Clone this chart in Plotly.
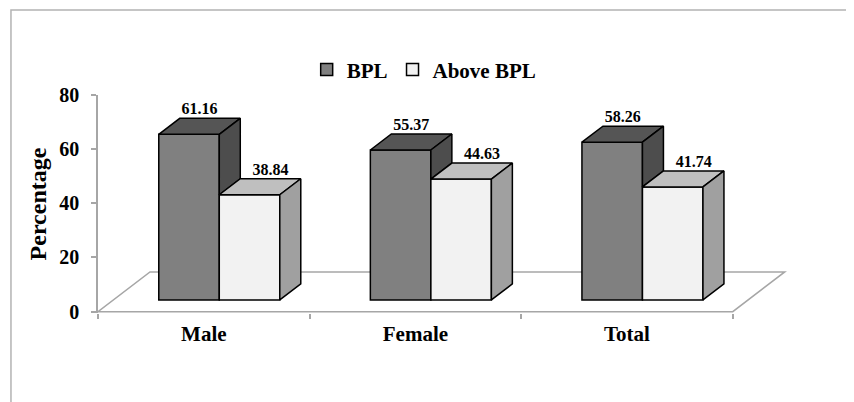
import plotly.graph_objects as go

# ---- data ----
categories = ["Male", "Female", "Total"]
series_names = ["BPL", "Above BPL"]
bpl = [61.16, 55.37, 58.26]
above_bpl = [38.84, 44.63, 41.74]
y_ticks = [0, 20, 40, 60, 80]

series_values = [bpl, above_bpl]

# ---- styling / geometry (in axis units) ----
FONT = "Liberation Serif, Times New Roman, serif"
W = 0.286          # bar width (category units)
SX, SY = 0.0732, 4.32   # shift of bar front from the floor front edge
DX, DY = 0.0992, 5.91   # bar depth
FDX, FDY = 0.2457, 14.66  # floor depth
front_colors = ["#808080", "#f2f2f2"]
top_colors = ["#555555", "#bfbfbf"]
side_colors = ["#4d4d4d", "#a0a0a0"]
label_dx = [0.05, DX]
EDGE = "#000000"
GRAY = "#a6a6a6"

fig = go.Figure()

n = len(categories)
xs = list(range(n))

# front faces as bars
for s, vals in enumerate(series_values):
    fig.add_trace(go.Bar(
        x=xs, y=vals, base=SY, width=W, offset=SX - W + s * W,
        name=series_names[s],
        marker=dict(color=front_colors[s], line=dict(color=EDGE, width=1.5)),
        hoverinfo="skip",
    ))

# top and side faces
for i in xs:
    for s, vals in enumerate(series_values):
        v = vals[i]
        x0 = i + SX - W + s * W
        x1 = x0 + W
        b = SY
        t = SY + v
        fig.add_trace(go.Scatter(
            x=[x0, x1, x1 + DX, x0 + DX, x0],
            y=[t, t, t + DY, t + DY, t],
            mode="lines", fill="toself", fillcolor=top_colors[s],
            line=dict(color=EDGE, width=1.5), showlegend=False, hoverinfo="skip",
        ))
        lo = b
        if s + 1 < len(series_values):
            lo = b + min(series_values[s + 1][i], v)
        fig.add_trace(go.Scatter(
            x=[x1, x1 + DX, x1 + DX, x1, x1],
            y=[t, t + DY, lo + DY, lo, t],
            mode="lines", fill="toself", fillcolor=side_colors[s],
            line=dict(color=EDGE, width=1.5), showlegend=False, hoverinfo="skip",
        ))

# data labels
for s, vals in enumerate(series_values):
    fig.add_trace(go.Scatter(
        x=[i + SX - W + s * W + W / 2 + label_dx[s] for i in xs],
        y=[SY + v + DY for v in vals],
        mode="text", text=[f"{v:.2f}" for v in vals],
        textposition="top center",
        textfont=dict(family=FONT, size=16, color="#000000", weight="bold"),
        cliponaxis=False, showlegend=False, hoverinfo="skip",
    ))

# floor
xl, xr = -0.5, n - 0.5
floor_path = (f"M {xl},0 L {xr},0 L {xr + FDX},{FDY} "
              f"L {xl + FDX},{FDY} Z")

shapes = [
    dict(type="path", path=floor_path, xref="x", yref="y", layer="below",
         line=dict(color=GRAY, width=1.5), fillcolor="rgba(0,0,0,0)"),
    dict(type="rect", xref="paper", yref="paper",
         x0=-0.1254, y0=-0.6, x1=1.2, y1=1.39,
         line=dict(color="#b3b3b3", width=1.5), fillcolor="rgba(0,0,0,0)",
         layer="below"),
]

# page body has an 8px default margin; figure is sized/placed to compensate
fig.update_layout(
    width=846, height=394,
    margin=dict(l=90, r=62, t=87, b=89),
    paper_bgcolor="white", plot_bgcolor="white",
    barmode="overlay",
    shapes=shapes,
    showlegend=True,
    legend=dict(orientation="h", x=0.47, xanchor="center", y=1.115,
                yanchor="middle", font=dict(family=FONT, size=21, color="#000000", weight="bold"),
                bgcolor="rgba(0,0,0,0)"),
    font=dict(family=FONT, color="#000000"),
    xaxis=dict(range=[-0.5, 2.78], tickmode="array", tickvals=xs, ticktext=categories,
               showline=False, zeroline=False, showgrid=False, ticks="",
               ticklabelstandoff=6,
               tickfont=dict(family=FONT, size=21, color="#000000", weight="bold"),
               minor=dict(tickmode="array", tickvals=[k - 0.5 for k in range(n + 1)],
                          ticks="outside", ticklen=5, tickcolor=GRAY, tickwidth=1.5,
                          showgrid=False)),
    yaxis=dict(range=[-0.5, 80], tickmode="array", tickvals=y_ticks,
               showline=True, linecolor=GRAY, linewidth=1.5, zeroline=False,
               showgrid=False, ticks="outside", ticklen=5, tickcolor=GRAY, tickwidth=1.5,
               ticklabelstandoff=8,
               tickfont=dict(family=FONT, size=20, color="#000000", weight="bold"),
               title=dict(text="Percentage", standoff=6,
                          font=dict(family=FONT, size=24, color="#000000", weight="bold"))),
)

fig.write_html("out.html")
